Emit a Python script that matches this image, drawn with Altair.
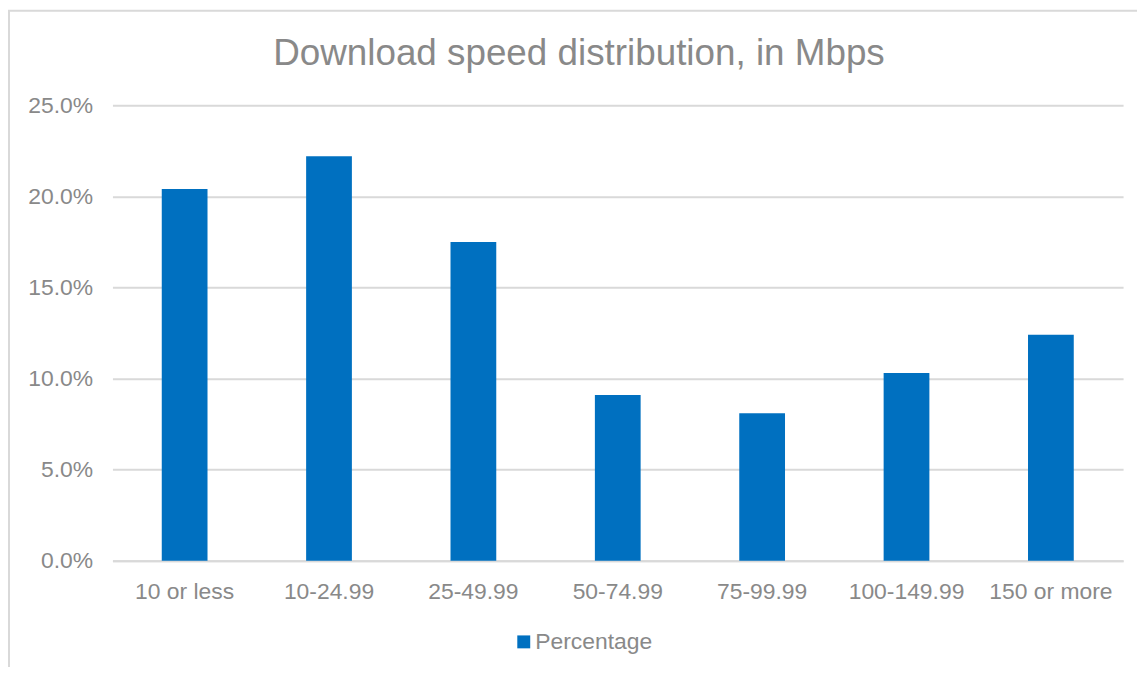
import altair as alt
import pandas as pd

categories = ["10 or less", "10-24.99", "25-49.99", "50-74.99", "75-99.99", "100-149.99", "150 or more"]
values = [0.204, 0.222, 0.175, 0.091, 0.081, 0.103, 0.124]
series = ["Percentage"] * len(categories)
y_ticks = [0.0, 0.05, 0.10, 0.15, 0.20, 0.25]

df = pd.DataFrame({"category": categories, "value": values, "series": series})

FONT = "Liberation Sans"
GRAY = "#898989"
GRID = "#d9d9d9"
W, H = 1016, 458

bars = alt.Chart(df).mark_bar(size=46, color="#0070C0").encode(
    x=alt.X("category:N", sort=categories,
            scale=alt.Scale(paddingInner=0, paddingOuter=0),
            axis=alt.Axis(title=None, labelAngle=0, ticks=False, domain=True,
                          domainColor=GRID, domainWidth=2, labelFontSize=23,
                          labelColor=GRAY, labelFont=FONT, labelPadding=20)),
    y=alt.Y("value:Q", scale=alt.Scale(domain=[0, 0.25], nice=False),
            axis=alt.Axis(title=None, values=y_ticks, format=".1%", ticks=False,
                          domain=False, gridColor=GRID, gridWidth=2,
                          labelFontSize=23, labelColor=GRAY, labelFont=FONT,
                          labelPadding=20)),
    color=alt.Color("series:N", scale=alt.Scale(range=["#0070C0"]),
                    legend=alt.Legend(title=None, orient="none", legendX=402,
                                      legendY=528, symbolType="square",
                                      symbolSize=169, symbolStrokeWidth=0,
                                      labelFontSize=23, labelColor=GRAY,
                                      labelFont=FONT, labelOffset=0, padding=0)),
)

frame = alt.Chart(pd.DataFrame({"f": [0]})).mark_rect(
    fill=None, stroke=GRID, strokeWidth=2, clip=False
).encode(
    x=alt.value(-104), x2=alt.value(W + 200),
    y=alt.value(-95), y2=alt.value(H + 300),
)

chart = alt.layer(frame, bars).properties(
    width=W, height=H,
    title=alt.TitleParams("Download speed distribution, in Mbps", fontSize=37,
                          font=FONT, color=GRAY, fontWeight="normal",
                          anchor="middle", dx=-39, offset=-64),
    autosize=alt.AutoSizeParams(type="none"),
    padding={"left": 105, "top": 96, "right": 14, "bottom": 105},
).configure_view(stroke=None)

chart.save("out.html", embed_options={"renderer": "svg", "actions": False})
